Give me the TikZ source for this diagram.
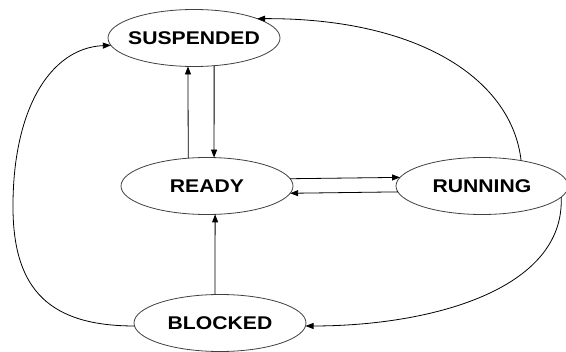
\documentclass[tikz,border=0pt]{standalone}
\usepackage{fontspec}
\newfontfamily\statefont[FakeStretch=1.15]{Liberation Sans}
\usetikzlibrary{shapes.geometric,arrows.meta}

\begin{document}
\begin{tikzpicture}[x=0.75pt, y=-0.75pt,
    procstate/.style={ellipse, draw=black!75, line width=0.6pt,
      minimum width=129pt, minimum height=42.75pt, inner sep=0pt, outer sep=0pt,
      font=\statefont\bfseries\fontsize{13.8}{16}\selectfont},
    trans/.style={line width=0.6pt, -{Triangle[length=6pt, width=4.5pt]}}]

  % fixed canvas, in pixel units of the reference (y grows downward)
  \useasboundingbox (0,0) rectangle (566,352);

  % === States ===
  \node[procstate] (suspended) at (194, 38)  {\makebox[0pt]{SUSPENDED}};
  \node[procstate] (ready)     at (207, 186) {\makebox[0pt]{READY}};
  \node[procstate] (running)   at (482, 186) {\makebox[0pt]{RUNNING}};
  \node[procstate] (blocked)   at (220, 323) {\makebox[0pt]{BLOCKED}};

  % === Vertical transitions ===
  \draw[trans] (ready.124)   -- (suspended.258);   % ready -> suspended
  \draw[trans] (suspended.306) -- (ready.76);      % suspended -> ready
  \draw[trans] (blocked.100) -- (ready.286);       % blocked -> ready

  % === Ready <-> running ===
  \draw[trans] (ready.5.5)    -- (running.174.5);
  \draw[trans] (running.184.1) -- (ready.355.9);

  % === Outer arcs ===
  % running -> suspended (over the top)
  \draw[trans] (running.33)
    .. controls (512, 80) and (420, 18) .. (suspended.17);
  % running -> blocked (round the right side)
  \draw[trans] (running.352.5)
    .. controls (565, 290) and (430, 326) .. (blocked.358);
  % blocked -> suspended (round the left side)
  \draw[trans] (blocked.182)
    .. controls (50, 326) and (14, 290) .. (13, 210)
    .. controls (12, 110) and (50, 48) .. (suspended.185);

\end{tikzpicture}
\end{document}
